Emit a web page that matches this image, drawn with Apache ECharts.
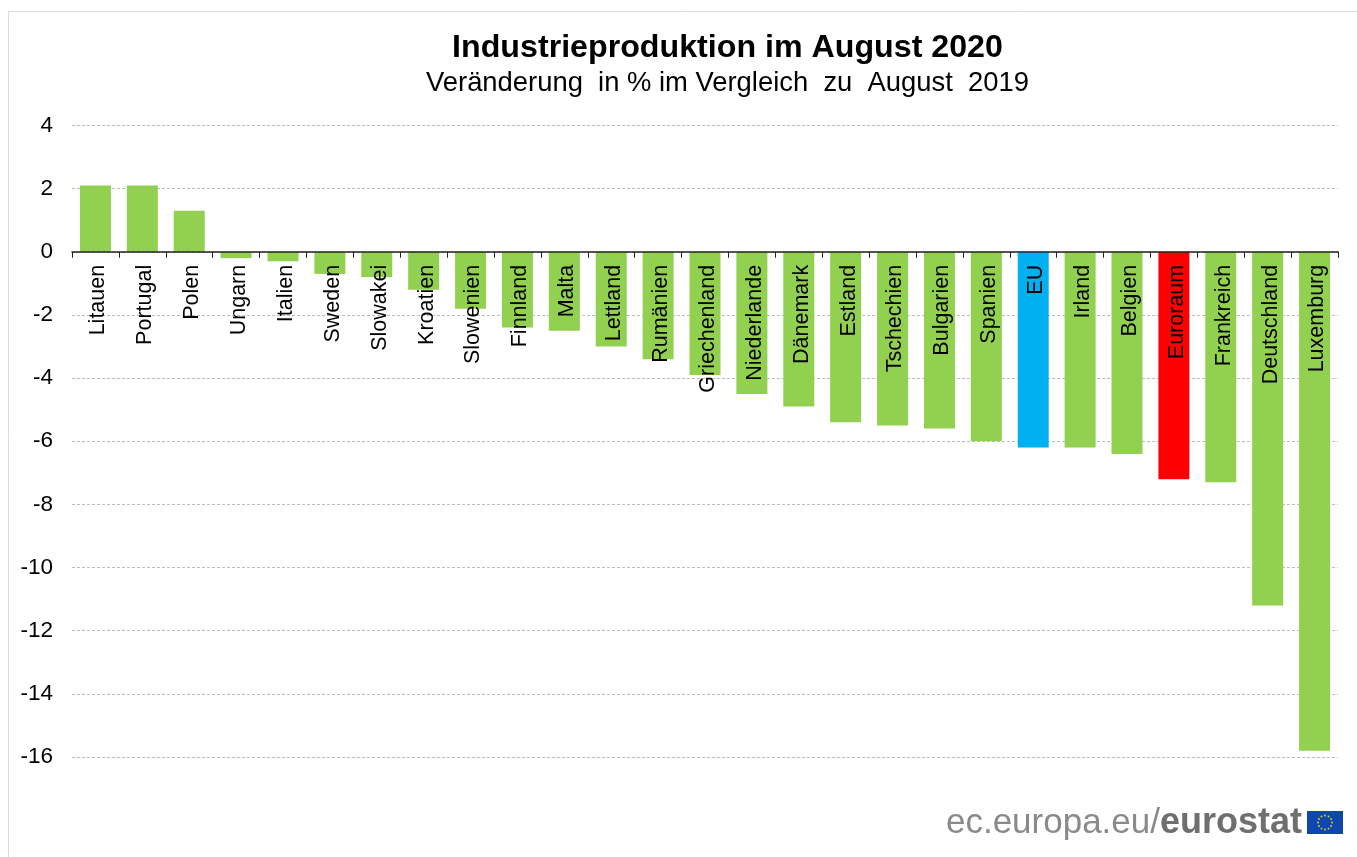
<!DOCTYPE html>
<html><head><meta charset="utf-8">
<style>html,body{margin:0;padding:0;background:#fff}#c{width:1357px;height:857px}</style>
<script src="https://cdn.jsdelivr.net/npm/echarts@6/dist/echarts.min.js"></script>
</head><body><div id="c"></div>
<script>
const categories = ["Litauen","Portugal","Polen","Ungarn","Italien","Sweden","Slowakei","Kroatien","Slowenien","Finnland","Malta","Lettland","Rumänien","Griechenland","Niederlande","Dänemark","Estland","Tschechien","Bulgarien","Spanien","EU","Irland","Belgien","Euroraum","Frankreich","Deutschland","Luxemburg"];
const values = [2.1,2.1,1.3,-0.2,-0.3,-0.7,-0.8,-1.2,-1.8,-2.4,-2.5,-3.0,-3.4,-3.9,-4.5,-4.9,-5.4,-5.5,-5.6,-6.0,-6.2,-6.2,-6.4,-7.2,-7.3,-11.2,-15.8];
const highlightColors = {"EU":"#00b0f0","Euroraum":"#ff0000"};
const baseColor = "#92d050";
const titleText = "Industrieproduktion im August 2020";
const subtitleText = "Veränderung  in % im Vergleich  zu  August  2019";

const flagCx = 1325, flagCy = 822.5;
const stars = [];
for (let i = 0; i < 12; i++) {
  const a = i * Math.PI / 6;
  stars.push({type:'circle', shape:{cx:flagCx+7*Math.cos(a), cy:flagCy+7*Math.sin(a), r:0.9}, style:{fill:'#e8d820'}, silent:true});
}
const chart = echarts.init(document.getElementById('c'), null, {renderer:'canvas'});
chart.setOption({
  animation:false,
  backgroundColor:'#fff',
  title:[
    {text:titleText,left:722.5,top:27,textAlign:'center',textStyle:{fontFamily:'Liberation Sans',fontSize:32.2,fontWeight:'bold',color:'#000'}},
    {text:subtitleText,left:722.5,top:65,textAlign:'center',textStyle:{fontFamily:'Liberation Sans',fontSize:27.4,fontWeight:'normal',color:'#000'}}
  ],
  grid:{left:72,right:19,top:125.5,bottom:100,containLabel:false,outerBoundsMode:'none'},
  xAxis:{type:'category',data:categories,z:5,position:'bottom',offset:-505.2,
    axisLine:{onZero:false,lineStyle:{color:'#222',width:1.5}},
    axisTick:{show:true,alignWithLabel:false,length:6,lineStyle:{color:'#222',width:1}},
    axisLabel:{rotate:90,interval:0,margin:13,verticalAlign:'top',lineHeight:6,fontFamily:'Liberation Sans',fontSize:21.5,color:'#000'},
    splitLine:{show:false}},
  yAxis:{type:'value',min:-16,max:4,interval:2,
    axisLine:{show:false},axisTick:{show:false},
    axisLabel:{margin:19,fontFamily:'Liberation Sans',fontSize:22.5,color:'#000'},
    splitLine:{lineStyle:{color:'#bdbdbd',type:[3,2],width:1}}},
  series:[{type:'bar',barWidth:31,
    data:values.map((v,i)=>({value:v,itemStyle:{color:highlightColors[categories[i]]||baseColor}}))}],
  graphic:[
    {type:'rect',shape:{x:8.5,y:11.5,width:1360,height:860},style:{fill:'none',stroke:'#dcdcdc',lineWidth:1},silent:true,z:-1},
    {type:'text',x:1160,y:823,style:{text:'ec.europa.eu/',align:'right',verticalAlign:'middle',font:'normal 35px "Liberation Sans"',fill:'#8a8a8a'},silent:true},
    {type:'text',x:1160,y:823,style:{text:'eurostat',align:'left',verticalAlign:'middle',font:'bold 36px "Liberation Sans"',fill:'#6f6f6f'},silent:true},
    {type:'rect',shape:{x:1307,y:811,width:36,height:23},style:{fill:'#0f47af'},silent:true},
    ...stars
  ]
});
</script></body></html>
